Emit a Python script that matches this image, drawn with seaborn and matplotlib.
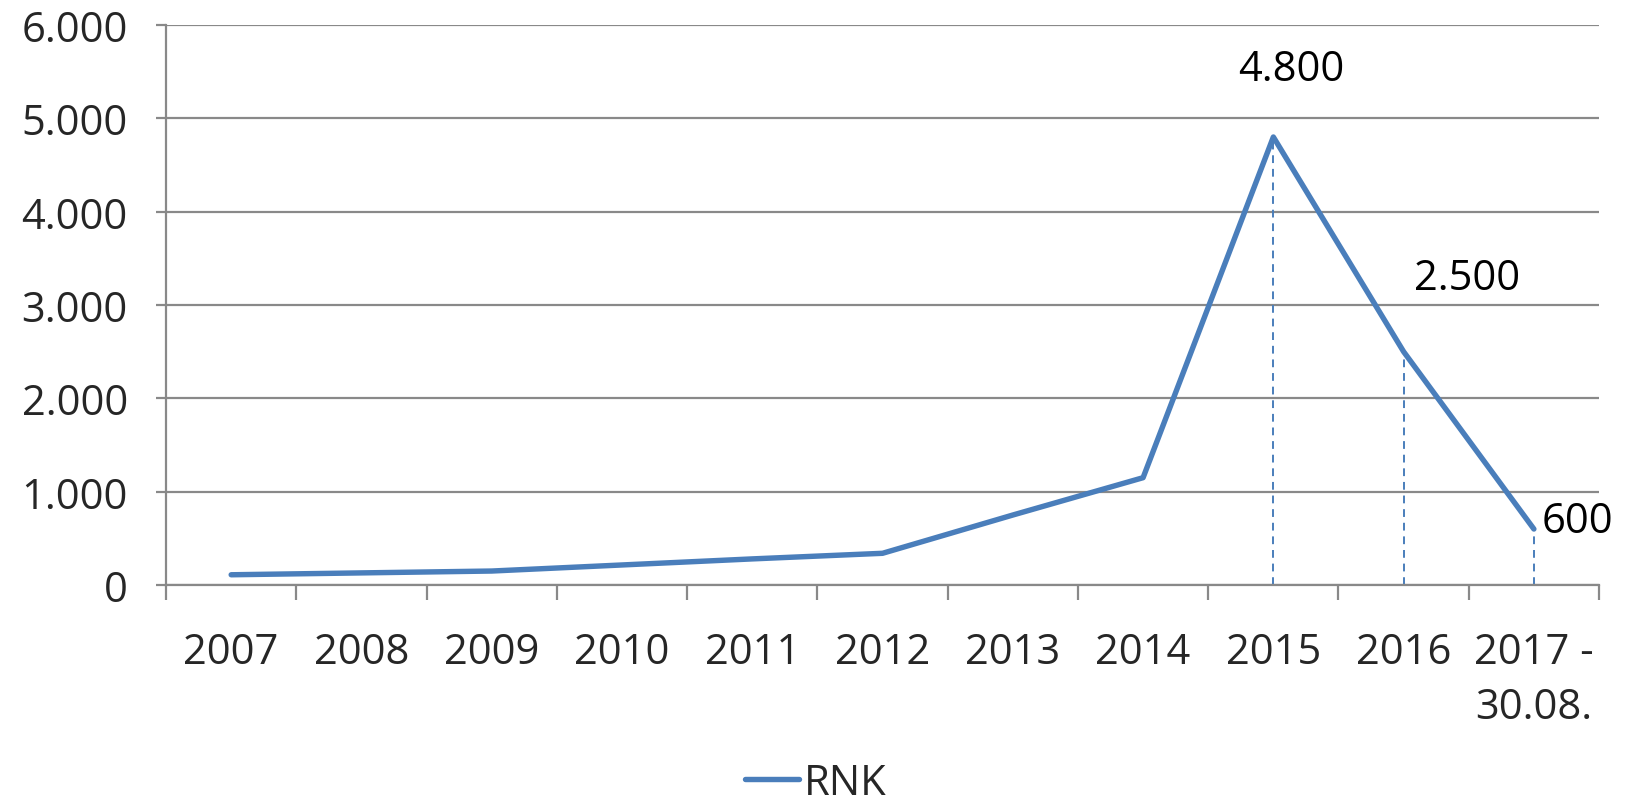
import matplotlib
matplotlib.use("Agg")
import matplotlib.pyplot as plt
import seaborn as sns
import pandas as pd
from matplotlib.ticker import FuncFormatter, FixedLocator

# Data
categories = ["2007", "2008", "2009", "2010", "2011", "2012", "2013",
              "2014", "2015", "2016", "2017 -\n30.08."]
rnk_values = [110, 130, 150, 215, 280, 340, 750, 1150, 4800, 2500, 600]
labelled_idx = [8, 9, 10]
y_ticks = [0, 1000, 2000, 3000, 4000, 5000, 6000]

sns.set_theme(style="white")
plt.rcParams["font.family"] = ["Open Sans", "DejaVu Sans"]

line_color = "#4A7EBB"
grid_color = "#898989"
fs = 30

df = pd.DataFrame({"pos": list(range(len(categories))), "RNK": rnk_values})

fig = plt.figure(figsize=(16.31, 8.04), dpi=100)
ax = fig.add_axes([0.1018, 0.2711, 0.9804 - 0.1018, 0.9677 - 0.2711])

sns.lineplot(data=df, x="pos", y="RNK", ax=ax, color=line_color,
             linewidth=3.9, label="RNK", solid_capstyle="round", zorder=3)

# dashed drop lines for the annotated points
for i in labelled_idx:
    ax.vlines(i, 0, rnk_values[i], colors=line_color, linestyles=(0, (4, 3)),
              linewidth=1.4, zorder=2)

ax.set_xlim(-0.5, len(categories) - 0.5)
ax.set_ylim(0, 6000)

# y axis
ax.yaxis.set_major_locator(FixedLocator(y_ticks))
ax.yaxis.set_major_formatter(FuncFormatter(lambda v, p: f"{int(v):,}".replace(",", ".")))
ax.grid(axis="y", color=grid_color, linewidth=1.6, zorder=0)
ax.tick_params(axis="y", which="major", length=7.5, width=1.6, color=grid_color,
               labelsize=fs, pad=20, left=True)

# x axis: labels at category centres, tick marks at category boundaries
ax.set_xticks(range(len(categories)))
ax.set_xticklabels(categories, fontsize=fs, linespacing=1.42, va="top")
ax.set_xticks([i - 0.5 for i in range(len(categories) + 1)], minor=True)
ax.tick_params(axis="x", which="major", length=0, pad=33)
ax.tick_params(axis="x", which="minor", length=11, width=1.6, color=grid_color,
               bottom=True)
ax.set_xlabel("")
ax.set_ylabel("")

for side in ["top", "right"]:
    ax.spines[side].set_visible(False)
for side in ["left", "bottom"]:
    ax.spines[side].set_color(grid_color)
    ax.spines[side].set_linewidth(1.6)

# value labels
label_offsets = {8: (18, 68, "center"), 9: (63, 74, "center"), 10: (8, 8, "left")}
for i in labelled_idx:
    dx, dy, ha = label_offsets[i]
    ax.annotate(f"{rnk_values[i]:,}".replace(",", "."), (i, rnk_values[i]),
                xytext=(dx, dy), textcoords="offset pixels", ha=ha, va="center",
                fontsize=fs, color="black", zorder=4)

ax.get_legend().remove()
fig.legend(loc="center", bbox_to_anchor=(0.5, 0.025), frameon=False,
           fontsize=fs, handlelength=1.3, handletextpad=0.12)

fig.savefig("out.png", dpi=100, facecolor="white")
